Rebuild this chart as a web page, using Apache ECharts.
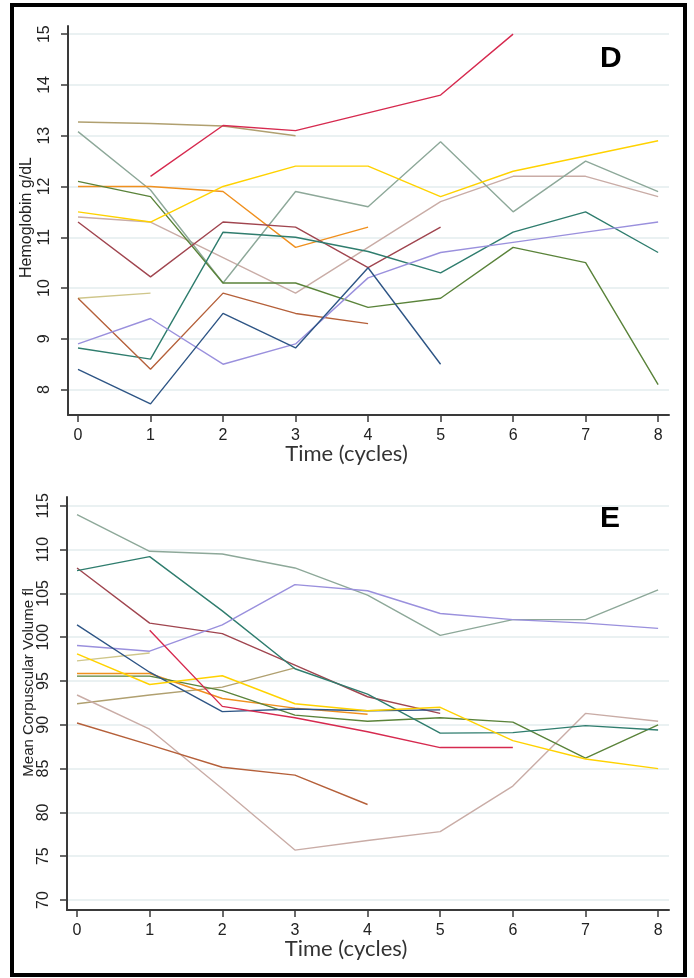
<!DOCTYPE html>
<html>
<head>
<meta charset="utf-8">
<script src="https://cdn.jsdelivr.net/npm/echarts@6/dist/echarts.min.js"></script>
<style>
  html, body { margin: 0; padding: 0; background: #fff; }
  #chart { width: 694px; height: 978px; }
</style>
</head>
<body>
<div id="chart"></div>
<script>
// 周期 (x 轴)
var cycles = [0, 1, 2, 3, 4, 5, 6, 7, 8];
var hbTicks = [8, 9, 10, 11, 12, 13, 14, 15];
var mcvTicks = [70, 75, 80, 85, 90, 95, 100, 105, 110, 115];

// D: Hemoglobin g/dL
var hbRed = [null, 12.2, 13.2, 13.1, 13.45, 13.8, 15.0];
var hbKhaki = [13.27, 13.24, 13.19, 13.0];
var hbGrayGreen = [13.08, 11.93, 10.1, 11.9, 11.6, 12.88, 11.5, 12.5, 11.9];
var hbYellow = [11.5, 11.3, 12.0, 12.4, 12.4, 11.8, 12.3, 12.6, 12.9];
var hbOrange = [12.0, 12.0, 11.9, 10.8, 11.2];
var hbOlive = [12.1, 11.8, 10.1, 10.1, 9.62, 9.8, 10.8, 10.5, 8.1];
var hbRose = [11.4, 11.3, 10.6, 9.9, 10.8, 11.7, 12.2, 12.2, 11.8];
var hbMaroon = [11.3, 10.22, 11.3, 11.2, 10.4, 11.2];
var hbTeal = [8.82, 8.6, 11.1, 11.0, 10.72, 10.3, 11.1, 11.5, 10.7];
var hbSand = [9.8, 9.9];
var hbRust = [9.8, 8.4, 9.9, 9.5, 9.3];
var hbLavender = [8.9, 9.4, 8.5, 8.9, 10.2, 10.7, 10.9, 11.1, 11.3];
var hbNavy = [8.4, 7.72, 9.5, 8.82, 10.4, 8.5];

// E: Mean Corpuscular Volume fl
var mcvRed = [null, 100.8, 92.1, 90.8, 89.2, 87.4, 87.4];
var mcvKhaki = [92.4, 93.4, 94.3, 96.5];
var mcvGrayGreen = [114, 109.8, 109.5, 107.9, 104.8, 100.2, 102, 102, 105.4];
var mcvYellow = [98.1, 94.6, 95.6, 92.4, 91.6, 92.0, 88.2, 86.1, 85.0];
var mcvOrange = [95.85, 95.85, 93.0, 91.9, 91.2];
var mcvOlive = [95.55, 95.55, 93.9, 91.1, 90.4, 90.8, 90.3, 86.2, 90.0];
var mcvRose = [93.4, 89.5, 82.7, 75.7, 76.8, 77.8, 83.0, 91.3, 90.4];
var mcvMaroon = [107.9, 101.6, 100.4, 96.8, 93.2, 91.3];
var mcvTeal = [107.6, 109.2, 103.0, 96.4, 93.5, 89.05, 89.1, 89.9, 89.4];
var mcvSand = [97.3, 98.2];
var mcvRust = [90.2, 87.7, 85.15, 84.25, 80.9];
var mcvLavender = [99.05, 98.4, 101.4, 106.0, 105.3, 102.7, 102.0, 101.6, 101.0];
var mcvNavy = [101.4, 96.0, 91.5, 91.8, 91.6, 91.7];

var colors = {
    red: '#D62A4F', khaki: '#B0A070', grayGreen: '#8DA899', yellow: '#FFD200',
    orange: '#F0901E', olive: '#5A833A', rose: '#C9ACA6', maroon: '#A0454F',
    teal: '#2F7D6E', sand: '#CFC68A', rust: '#B5603A', lavender: '#9A90DD', navy: '#2E5585'
};

var hbSets = [
    ['khaki', hbKhaki], ['sand', hbSand], ['rose', hbRose], ['grayGreen', hbGrayGreen],
    ['orange', hbOrange], ['olive', hbOlive], ['maroon', hbMaroon], ['teal', hbTeal],
    ['rust', hbRust], ['lavender', hbLavender], ['navy', hbNavy], ['yellow', hbYellow], ['red', hbRed]
];
var mcvSets = [
    ['khaki', mcvKhaki], ['sand', mcvSand], ['rose', mcvRose], ['grayGreen', mcvGrayGreen],
    ['orange', mcvOrange], ['olive', mcvOlive], ['maroon', mcvMaroon], ['teal', mcvTeal],
    ['rust', mcvRust], ['lavender', mcvLavender], ['navy', mcvNavy], ['yellow', mcvYellow], ['red', mcvRed]
];

var axisColor = '#3a3a3a';
var tickFont = 'Liberation Sans, Arial, sans-serif';

function toPoints(values) {
    return values.map(function (v, i) { return [cycles[i], v]; });
}

function makeSeries(sets, idx) {
    return sets.map(function (s) {
        return {
            type: 'line',
            xAxisIndex: idx,
            yAxisIndex: idx,
            symbol: 'none',
            silent: true,
            lineStyle: { color: colors[s[0]], width: 1.4 },
            data: toPoints(s[1])
        };
    });
}

function makeXAxis(idx) {
    return {
        type: 'value',
        gridIndex: idx,
        min: -0.138,
        max: 8.15,
        axisLine: { show: true, onZero: false, lineStyle: { color: axisColor, width: 2 } },
        axisTick: { show: true, length: 7, customValues: cycles, lineStyle: { color: axisColor, width: 1.5 } },
        axisLabel: { customValues: cycles, margin: 13, fontFamily: tickFont, fontSize: 16, color: '#222' },
        splitLine: { show: false },
        name: 'Time (cycles)',
        nameLocation: 'middle',
        nameGap: 28,
        nameMoveOverlap: false,
        nameTextStyle: { fontFamily: 'Lato, sans-serif', fontSize: 22, color: '#333', padding: [0, 44, 0, 0] }
    };
}

function makeYAxis(idx, min, max, ticks, name, nameSize, nameGap, namePad) {
    return {
        type: 'value',
        gridIndex: idx,
        min: min,
        max: max,
        axisLine: { show: true, onZero: false, lineStyle: { color: axisColor, width: 2 } },
        axisTick: { show: true, length: 7, customValues: ticks, lineStyle: { color: axisColor, width: 1.5 } },
        axisLabel: { customValues: ticks, rotate: 90, margin: 15, fontFamily: tickFont, fontSize: 16, color: '#222' },
        splitLine: { show: true, lineStyle: { color: '#E3ECEE', width: 1.5 } },
        name: name,
        nameLocation: 'middle',
        nameGap: nameGap,
        nameMoveOverlap: false,
        nameTextStyle: { fontFamily: tickFont, fontSize: nameSize, color: '#222', padding: namePad }
    };
}

var chart = echarts.init(document.getElementById('chart'), null, { renderer: 'canvas' });

var option = {
    animation: false,
    backgroundColor: '#fff',
    title: [
        { text: 'D', left: 600, top: 44, padding: 0, textStyle: { fontSize: 30, fontWeight: 'bold', fontFamily: tickFont, color: '#000' } },
        { text: 'E', left: 600, top: 504, padding: 0, textStyle: { fontSize: 30, fontWeight: 'bold', fontFamily: tickFont, color: '#000' } }
    ],
    grid: [
        { left: 68, top: 26, width: 601, height: 389 },
        { left: 67, top: 497, width: 602, height: 413 }
    ],
    xAxis: [makeXAxis(0), makeXAxis(1)],
    yAxis: [
        makeYAxis(0, 7.5, 15.16, hbTicks, 'Hemoglobin g/dL', 16, 33, [0, 0, 0, 6]),
        makeYAxis(1, 68.86, 116, mcvTicks, 'Mean Corpuscular Volume fl', 15, 31, [0, 0, 0, 42])
    ],
    graphic: [
        {
            type: 'rect',
            silent: true,
            z: 100,
            shape: { x: 12, y: 5, width: 673, height: 970 },
            style: { fill: 'none', stroke: '#000', lineWidth: 4 }
        }
    ],
    series: makeSeries(hbSets, 0).concat(makeSeries(mcvSets, 1))
};

chart.setOption(option);
</script>
</body>
</html>
